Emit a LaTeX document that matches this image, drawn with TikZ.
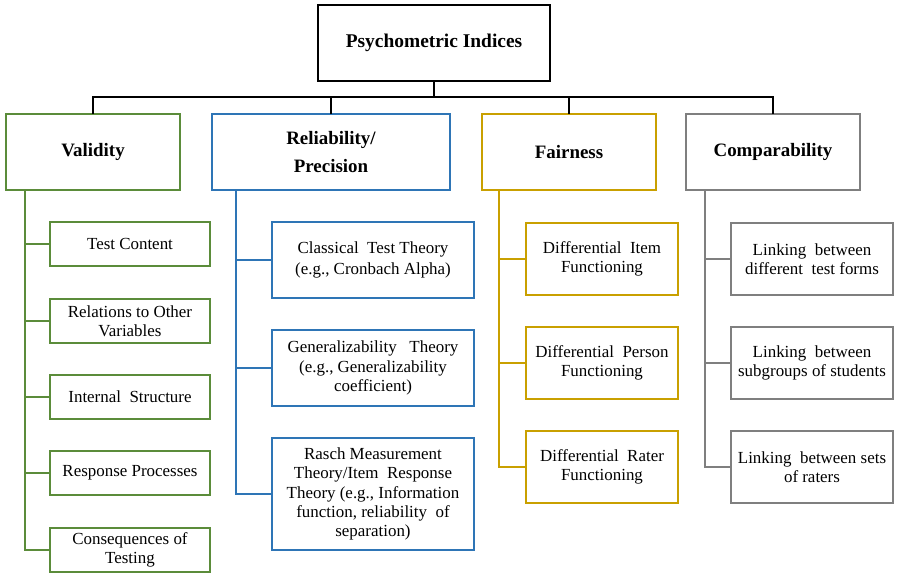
\documentclass[tikz,border=0pt]{standalone}
\usepackage{fontspec}
\setmainfont{Liberation Serif}
\newfontfamily\tnr{Liberation Serif}
\definecolor{cgreen}{HTML}{5B8C3A}
\definecolor{cblue}{HTML}{2E75B6}
\definecolor{cgold}{HTML}{C9A000}
\definecolor{cgray}{HTML}{7F7F7F}
\begin{document}
\begin{tikzpicture}[x=1bp,y=-1bp,
  box/.style={draw, line width=2bp, fill=white, inner sep=1pt, outer sep=0pt, align=center},
  head/.style={box, minimum width=174bp, minimum height=76bp, font=\tnr\bfseries\fontsize{19}{29}\selectfont},
  sub/.style={box, font=\tnr\fontsize{17}{19.5}\selectfont},
  link/.style={line width=2bp}]
\useasboundingbox (0,0) rectangle (897,575);
% top
\node[box, line width=2.4bp, minimum width=232bp, minimum height=76bp, font=\tnr\bfseries\fontsize{19.5}{22}\selectfont] (top) at (434,43) {Psychometric Indices};
% heads
\node[head, draw=cgreen] (val) at (93,152) {Validity};
\node[head, draw=cblue, minimum width=238bp] (rel) at (331,152) {Reliability/\\Precision};
\node[head, draw=cgold] (fai) at (569,152) {Fairness};
\node[head, draw=cgray] (com) at (773,152) {Comparability};
% bus
\coordinate (bus) at (434,97);
\foreach \h in {val,rel,fai,com}{
  \draw[link] (top.south) -- (bus) -| (\h.north);
}
% validity children
\begin{scope}[every node/.style={sub, draw=cgreen, minimum width=160bp, minimum height=44bp}]
\node (v1) at (130,244) {Test Content};
\node (v2) at (130,321) {Relations to Other\\Variables};
\node (v3) at (130,397) {Internal\ \ Structure};
\node (v4) at (130,473) {Response Processes};
\node (v5) at (130,550) {Consequences of\\Testing};
\end{scope}
\coordinate (vs) at (25,190);
\foreach \c in {v1,v2,v3,v4,v5}{\draw[link, cgreen] (vs) |- (\c.west);}
% reliability children
\begin{scope}[every node/.style={sub, draw=cblue, minimum width=202bp}]
\node[minimum height=76bp, font=\tnr\fontsize{17}{21}\selectfont] (r1) at (373,260) {Classical\ \ Test Theory\\(e.g., Cronbach Alpha)};
\node[minimum height=76bp] (r2) at (373,368) {Generalizability\ \ \ Theory\\(e.g., Generalizability\\coefficient)};
\node[minimum height=112bp] (r3) at (373,494) {Rasch Measurement\\Theory/Item\ \ Response\\Theory (e.g., Information\\function, reliability\ \ of\\separation)};
\end{scope}
\coordinate (rs) at (236,190);
\foreach \c in {r1,r2,r3}{\draw[link, cblue] (rs) |- (\c.west);}
% fairness children
\begin{scope}[every node/.style={sub, draw=cgold, minimum width=152bp, minimum height=72bp}]
\node (f1) at (602,259) {Differential\ \ Item\\Functioning};
\node (f2) at (602,363) {Differential\ \ Person\\Functioning};
\node (f3) at (602,467) {Differential\ \ Rater\\Functioning};
\end{scope}
\coordinate (fs) at (499,190);
\foreach \c in {f1,f2,f3}{\draw[link, cgold] (fs) |- (\c.west);}
% comparability children
\begin{scope}[every node/.style={sub, draw=cgray, minimum width=162bp, minimum height=72bp}]
\node (c1) at (812,259) {Linking\ \ between\\different\ \ test forms};
\node (c2) at (812,363) {Linking\ \ between\\subgroups of students};
\node (c3) at (812,467) {Linking\ \ between sets\\of raters};
\end{scope}
\coordinate (cs) at (705,190);
\foreach \c in {c1,c2,c3}{\draw[link, cgray] (cs) |- (\c.west);}
\end{tikzpicture}
\end{document}
